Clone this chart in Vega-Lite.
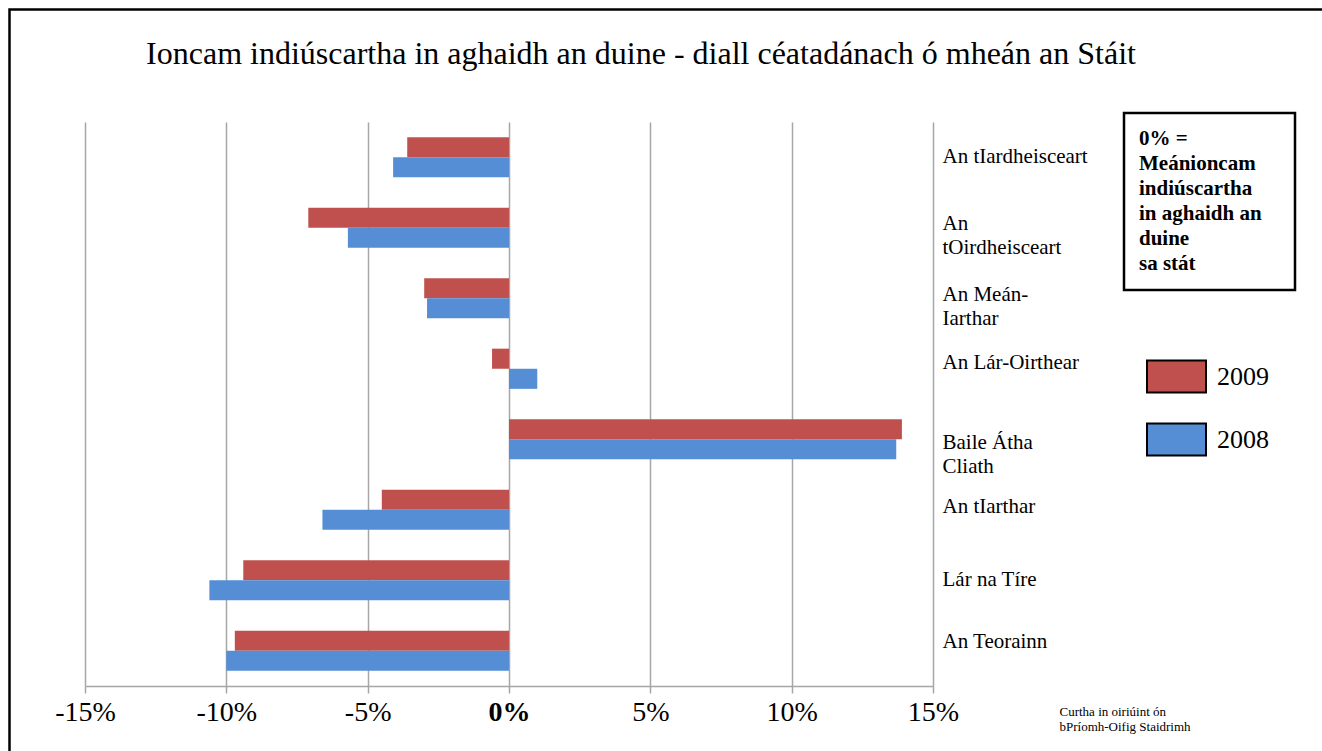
{
  "$schema": "https://vega.github.io/schema/vega-lite/v6.json",
  "width": 848,
  "height": 564,
  "autosize": {"type": "none"},
  "padding": {"left": 85, "top": 122, "right": 389, "bottom": 65},
  "background": "white",
  "title": {
    "text": "Ioncam indiúscartha in aghaidh an duine - diall céatadánach ó mheán an Stáit",
    "font": "Liberation Serif",
    "fontSize": 32,
    "fontWeight": "normal",
    "color": "black",
    "anchor": "middle",
    "frame": "group",
    "baseline": "alphabetic",
    "dx": 132,
    "offset": -88
  },
  "config": {"view": {"stroke": null}, "font": "Liberation Serif", "legend": {"strokeWidth": 2.5}},
  "layer": [
    {
      "data": {
        "values": [
          {"region": "An tIardheisceart", "year": "2009", "value": -3.6},
          {"region": "An tIardheisceart", "year": "2008", "value": -4.1},
          {"region": "An tOirdheisceart", "year": "2009", "value": -7.1},
          {"region": "An tOirdheisceart", "year": "2008", "value": -5.7},
          {"region": "An Meán-Iarthar", "year": "2009", "value": -3.0},
          {"region": "An Meán-Iarthar", "year": "2008", "value": -2.9},
          {"region": "An Lár-Oirthear", "year": "2009", "value": -0.6},
          {"region": "An Lár-Oirthear", "year": "2008", "value": 1.0},
          {"region": "Baile Átha Cliath", "year": "2009", "value": 13.9},
          {"region": "Baile Átha Cliath", "year": "2008", "value": 13.7},
          {"region": "An tIarthar", "year": "2009", "value": -4.5},
          {"region": "An tIarthar", "year": "2008", "value": -6.6},
          {"region": "Lár na Tíre", "year": "2009", "value": -9.4},
          {"region": "Lár na Tíre", "year": "2008", "value": -10.6},
          {"region": "An Teorainn", "year": "2009", "value": -9.7},
          {"region": "An Teorainn", "year": "2008", "value": -10.0}
        ]
      },
      "mark": {"type": "bar"},
      "encoding": {
        "x": {
          "field": "value",
          "type": "quantitative",
          "scale": {"domain": [-15, 15], "nice": false, "zero": false},
          "axis": {
            "values": [-15, -10, -5, 0, 5, 10, 15],
            "labelExpr": "datum.value + '%'",
            "labelFlush": false,
            "labelFont": "Liberation Serif",
            "labelFontSize": 28,
            "labelColor": "black",
            "labelFontWeight": {"condition": {"test": "datum.value == 0", "value": "bold"}, "value": "normal"},
            "labelPadding": 5,
            "grid": true,
            "gridColor": "#a6a6a6",
            "gridWidth": 1.5,
            "tickColor": "#a6a6a6",
            "tickWidth": 1.5,
            "tickSize": 7,
            "domainColor": "#a6a6a6",
            "domainWidth": 1.5,
            "title": ["Curtha in oiriúint ón", "bPríomh-Oifig Staidrimh"],
            "titleFont": "Liberation Serif",
            "titleFontSize": 13,
            "titleFontWeight": "normal",
            "titleColor": "black",
            "titleLineHeight": 15,
            "titleAlign": "left",
            "titleAnchor": "start",
            "titleBaseline": "alphabetic",
            "titleX": 974,
            "titleY": 29
          }
        },
        "y": {
          "field": "region",
          "type": "nominal",
          "sort": ["An tIardheisceart", "An tOirdheisceart", "An Meán-Iarthar", "An Lár-Oirthear", "Baile Átha Cliath", "An tIarthar", "Lár na Tíre", "An Teorainn"],
          "scale": {"paddingInner": 0.43, "paddingOuter": 0.215},
          "axis": {
            "orient": "right",
            "title": null,
            "ticks": false,
            "tickSize": 0,
            "domain": false,
            "grid": false,
            "labelAlign": "left",
            "labelPadding": 9,
            "labelFont": "Liberation Serif",
            "labelFontSize": 21,
            "labelColor": "black",
            "labelLineHeight": 24,
            "labelLimit": 300,
            "labelOffset": {
              "condition": [
                {"test": "datum.value == 'An tOirdheisceart'", "value": -4},
                {"test": "datum.value == 'An Meán-Iarthar'", "value": -3},
                {"test": "datum.value == 'An Lár-Oirthear'", "value": -6},
                {"test": "datum.value == 'Baile Átha Cliath'", "value": 4},
                {"test": "datum.value == 'An tIarthar'", "value": -3},
                {"test": "datum.value == 'An Teorainn'", "value": -9}
              ],
              "value": 0
            },
            "labelExpr": "datum.value == 'An tOirdheisceart' ? ['An', 'tOirdheisceart'] : datum.value == 'An Meán-Iarthar' ? ['An Meán-', 'Iarthar'] : datum.value == 'Baile Átha Cliath' ? ['Baile Átha', 'Cliath'] : datum.value"
          }
        },
        "yOffset": {"field": "year", "type": "nominal", "sort": ["2009", "2008"]},
        "color": {
          "field": "year",
          "type": "nominal",
          "scale": {"domain": ["2009", "2008"], "range": ["#C0504D", "#558ED5"]},
          "legend": {
            "orient": "none",
            "legendX": 1061,
            "legendY": 224,
            "padding": 0,
            "title": null,
            "symbolType": "M-1,-0.542H1V0.542H-1Z",
            "symbolSize": 3481,
            "symbolStrokeColor": "black",
            "symbolStrokeWidth": 2,
            "symbolOpacity": 1,
            "rowPadding": 12,
            "labelOffset": 10,
            "labelFont": "Liberation Serif",
            "labelFontSize": 26,
            "labelColor": "black"
          }
        }
      }
    },
    {
      "data": {"values": [{"note": "note"}]},
      "mark": {"type": "point", "opacity": 0},
      "encoding": {
        "shape": {
          "field": "note",
          "type": "nominal",
          "legend": {
            "orient": "none",
            "legendX": 1039,
            "legendY": -9,
            "padding": 15,
            "strokeColor": "black",
            "title": ["0% =", "Meánioncam", "indiúscartha", "in aghaidh an", "duine", "sa stát"],
            "titleFont": "Liberation Serif",
            "titleFontSize": 21,
            "titleFontWeight": "bold",
            "titleColor": "black",
            "titleLineHeight": 25,
            "titlePadding": 0,
            "titleLimit": 300,
            "symbolOpacity": 0,
            "symbolSize": 0,
            "labelOpacity": 0,
            "labelFontSize": 1,
            "labelOffset": 0,
            "labelLimit": 139,
            "labelExpr": "pad('', 400, 'W')"
          }
        }
      }
    },
    {
      "data": {"values": [{"frame": "frame"}]},
      "mark": {"type": "point", "opacity": 0},
      "encoding": {
        "strokeDash": {
          "field": "frame",
          "type": "nominal",
          "legend": {
            "orient": "none",
            "legendX": -75.5,
            "legendY": -112.5,
            "padding": 700,
            "strokeColor": "black",
            "title": null,
            "symbolOpacity": 0,
            "labelOpacity": 0
          }
        }
      }
    }
  ]
}
